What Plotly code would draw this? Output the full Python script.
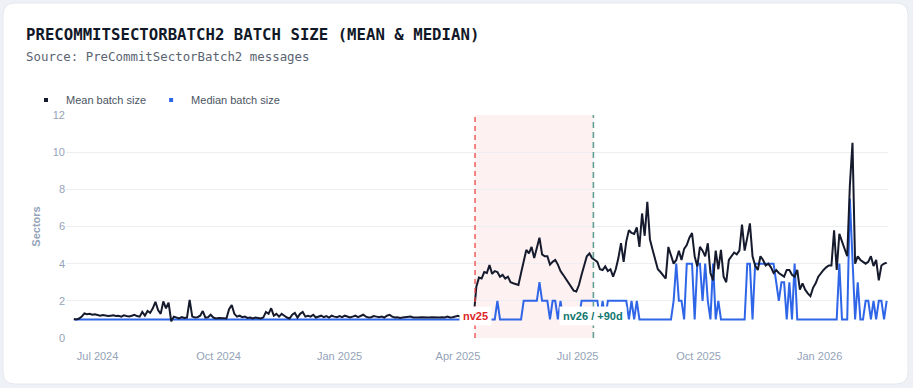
import plotly.graph_objects as go
import pandas as pd

# ---- data (2-day sampling) ----
start_date = "2024-06-13"
mean_pre = [
    1.02, 1.0, 1.05, 1.15, 1.32, 1.28, 1.3, 1.25,
    1.28, 1.22, 1.2, 1.24, 1.2, 1.18, 1.2, 1.22,
    1.18, 1.2, 1.15, 1.22, 1.18, 1.16, 1.2, 1.25, 1.18, 1.15,
    1.4, 1.2, 1.45, 1.35, 1.6, 1.95, 1.5, 1.3, 1.97, 1.6, 1.9, 0.9, 1.15,
    1.1, 1.05, 1.12, 1.08, 1.1,
    2.05, 1.15, 1.1, 1.12, 1.2, 1.45, 1.1, 1.12, 1.25, 1.1, 1.05, 1.08, 1.05, 1.06, 1.05,
    1.55, 1.78, 1.3, 1.15, 1.2, 1.12, 1.15, 1.08, 1.1, 1.05, 1.1, 1.08,
    1.05, 1.1, 1.4, 1.3, 1.6, 1.2, 1.3, 1.15, 1.3, 1.2, 1.1, 1.05, 1.25, 1.35, 1.1, 1.3, 1.4, 1.15, 1.2,
    1.15, 1.25, 1.1, 1.15, 1.2, 1.12, 1.18, 1.1, 1.2, 1.15, 1.12,
    1.18, 1.12, 1.2, 1.15, 1.1, 1.15, 1.2, 1.12, 1.18, 1.25, 1.15, 1.1, 1.12, 1.18, 1.15,
    1.12, 1.15, 1.1, 1.2, 1.25, 1.15, 1.1, 1.12, 1.08, 1.1, 1.12, 1.1, 1.15, 1.1, 1.08,
    1.1, 1.12, 1.1, 1.08, 1.1, 1.12, 1.1, 1.08, 1.1, 1.12, 1.1, 1.15, 1.1, 1.12, 1.18, 1.2,
    1.15, 1.22, 1.2, 1.18, 1.2, 1.15,
]
mean_post = [
    2.76, 3.25, 3.2, 3.55, 3.5, 3.93, 3.45, 3.6, 3.55, 3.3,
    3.4, 3.2, 3.3, 3.0, 2.95, 2.9, 2.86, 3.5, 4.2, 4.74,
    4.55, 4.9, 4.3, 4.8, 5.4, 4.5, 4.4, 4.4, 3.95, 4.1,
    4.2, 3.95, 3.6, 3.4, 3.2, 3.0, 2.8, 2.55, 2.5, 2.85,
    3.4, 3.9, 4.4, 4.55, 4.3, 4.2, 4.1, 3.7, 3.66, 3.85,
    3.6, 3.7, 3.3, 3.7, 4.3, 5.1, 4.1, 5.2, 5.8, 5.65,
    5.6, 5.95, 4.9, 6.7, 5.5, 7.33, 5.3, 4.75, 4.2, 3.7,
    3.55, 3.4, 3.2, 4.9, 4.5, 4.0, 4.2, 4.7, 4.2, 4.8,
    5.0, 5.4, 5.65, 4.4, 3.85, 4.9, 4.7, 4.4, 5.1, 3.5,
    3.1, 4.7, 3.7, 4.74, 3.3, 3.0, 4.2, 4.4, 4.6, 4.5,
    4.7, 6.1, 4.7, 5.4, 6.17, 4.4, 3.9, 3.66, 4.4, 4.2,
    3.9, 4.0, 3.8, 3.5, 3.66, 3.5, 3.4, 3.3, 3.66, 3.66,
    3.4, 3.3, 3.66, 2.6, 2.94, 2.6, 2.4, 2.25, 2.7, 2.94,
    3.3, 3.5, 3.66, 3.8, 3.9, 3.9, 5.8, 3.66, 5.6, 5.2,
    4.8, 4.4, 8.2, 10.5, 4.0, 4.4, 4.2, 4.1, 4.0, 4.1,
    4.4, 3.87, 4.2, 3.1, 3.9, 4.0, 4.05,
]
median_pre = [1.0] * len(mean_pre)
median_post = [
    1, 1, 1, 1, 1, 1, 1, 1, 2, 1,
    1, 1, 1, 1, 1, 1, 1, 1, 2, 2,
    2, 2, 2, 2, 3, 2, 2, 2, 1, 2,
    2, 1, 2, 1, 1, 1, 1, 1, 1, 1,
    2, 2, 2, 2, 2, 2, 2, 1, 2, 1,
    2, 2, 2, 2, 2, 2, 2, 2, 1, 2,
    1, 2, 1, 1, 1, 1, 1, 1, 1, 1,
    1, 1, 1, 1, 1, 2, 4, 2, 2, 1,
    4, 4, 4, 1, 4, 4, 2, 4, 2, 1,
    4, 1, 2, 1, 1, 1, 1, 1, 1, 1,
    1, 1, 1, 4, 4, 1, 4, 4, 4, 4,
    4, 4, 4, 4, 3, 2, 3, 3, 1, 3,
    1, 4, 1, 1, 1, 1, 1, 1, 1, 1,
    1, 1, 1, 1, 1, 1, 1, 1, 4, 1,
    1, 1, 7.5, 4, 1, 3, 1, 1, 2, 2,
    1, 2, 1, 2, 2, 1, 2,
]
mean_values = mean_pre + mean_post
median_values = median_pre + median_post
dates = pd.date_range(start_date, periods=len(mean_values), freq="2D")

nv25_date = "2025-04-14"
nv26_date = "2025-07-13"
x_range = ["2024-06-07", "2026-02-22"]

MEAN_COLOR = "#151a2d"
MEDIAN_COLOR = "#2f66e8"
BG = "#eef1f5"

fig = go.Figure()
fig.add_trace(go.Scatter(x=dates, y=median_values, mode="lines",
                         line=dict(color=MEDIAN_COLOR, width=2), showlegend=False,
                         name="Median batch size"))
fig.add_trace(go.Scatter(x=dates, y=mean_values, mode="lines",
                         line=dict(color=MEAN_COLOR, width=2), showlegend=False,
                         name="Mean batch size"))
# legend proxies (small squares)
fig.add_trace(go.Scatter(x=[None], y=[None], mode="markers", name="Mean batch size",
                         marker=dict(symbol="square", size=4, color=MEAN_COLOR)))
fig.add_trace(go.Scatter(x=[None], y=[None], mode="markers", name="Median batch size",
                         marker=dict(symbol="square", size=4, color=MEDIAN_COLOR)))

L, R, T, B = 66, 25, 115, 50
W, H = 913, 388
pw, ph = W - L - R, H - T - B

def px(xp):
    return (xp - L) / pw

def py(yp):
    return (H - B - yp) / ph

# card background (rounded rect)
x0, x1, y0, y1 = px(3), px(908), py(384), py(3)
rx, ry = 12 / pw, 12 / ph
card = (f"M {x0+rx} {y0} L {x1-rx} {y0} Q {x1} {y0} {x1} {y0+ry} "
        f"L {x1} {y1-ry} Q {x1} {y1} {x1-rx} {y1} L {x0+rx} {y1} "
        f"Q {x0} {y1} {x0} {y1-ry} L {x0} {y0+ry} Q {x0} {y0} {x0+rx} {y0} Z")
fig.add_shape(type="path", path=card, xref="paper", yref="paper",
              fillcolor="white", line=dict(color="#e5e8ee", width=1), layer="below")
fig.add_shape(type="rect", x0=nv25_date, x1=nv26_date, y0=0, y1=1, xref="x", yref="paper",
              fillcolor="rgba(220,60,60,0.07)", line_width=0, layer="below")
fig.add_shape(type="line", x0=nv25_date, x1=nv25_date, y0=0, y1=1, xref="x", yref="paper",
              line=dict(color="#ef4444", width=1.3, dash="5px,4px"))
fig.add_shape(type="line", x0=nv26_date, x1=nv26_date, y0=0, y1=1, xref="x", yref="paper",
              line=dict(color="#63a196", width=1.6, dash="6px,4px"))

fig.add_annotation(x=nv25_date, y=py(316), xref="x", yref="paper", text="<b>nv25</b>",
                   showarrow=False, font=dict(family="Liberation Sans", size=11, color="#dc2626"),
                   bgcolor="white", borderpad=3, xanchor="center", yanchor="middle")
fig.add_annotation(x=nv26_date, y=py(316), xref="x", yref="paper", text="<b>nv26 / +90d</b>",
                   showarrow=False, font=dict(family="Liberation Sans", size=11, color="#0f766e"),
                   bgcolor="white", borderpad=3, xanchor="center", yanchor="middle")

fig.add_annotation(x=px(24), y=py(57), xref="paper", yref="paper",
                   text="Source: PreCommitSectorBatch2 messages", showarrow=False,
                   xanchor="left", yanchor="middle",
                   font=dict(family="DejaVu Sans Mono", size=12.4, color="#5b6472"))

fig.update_layout(
    width=W, height=H,
    margin=dict(l=L, r=R, t=T, b=B),
    paper_bgcolor=BG,
    plot_bgcolor="white",
    title=dict(text="<b>PRECOMMITSECTORBATCH2 BATCH SIZE (MEAN &amp; MEDIAN)</b>",
               x=26 / W, xanchor="left", xref="container",
               y=1 - 35 / H, yanchor="middle", yref="container",
               font=dict(family="DejaVu Sans Mono", size=15.7, color="#111827")),
    legend=dict(orientation="h", x=px(26), y=py(100), xanchor="left", yanchor="middle",
                font=dict(family="Liberation Sans", size=11, color="#4b5563"),
                bgcolor="rgba(0,0,0,0)", itemsizing="trace", itemwidth=30,
                tracegroupgap=0),
    xaxis=dict(range=x_range, type="date", dtick="M3", tick0="2024-07-01",
               tickformat="%b %Y", showgrid=False, zeroline=False, showline=False,
               ticks="", ticklabelstandoff=10,
               tickfont=dict(family="Liberation Sans", size=11, color="#94a3b8")),
    yaxis=dict(range=[0, 12], dtick=2, showgrid=True, gridcolor="#eceef2", gridwidth=1,
               zeroline=False, showline=False, ticks="",
               tickfont=dict(family="Liberation Sans", size=11, color="#94a3b8"),
               title=dict(text="<b>Sectors</b>", standoff=9,
                          font=dict(family="Liberation Sans", size=11, color="#94a3b8"))),
)

fig.write_html("out.html", config={"displayModeBar": False},
               post_script=f"document.body.style.margin='0';document.body.style.background='{BG}';")
